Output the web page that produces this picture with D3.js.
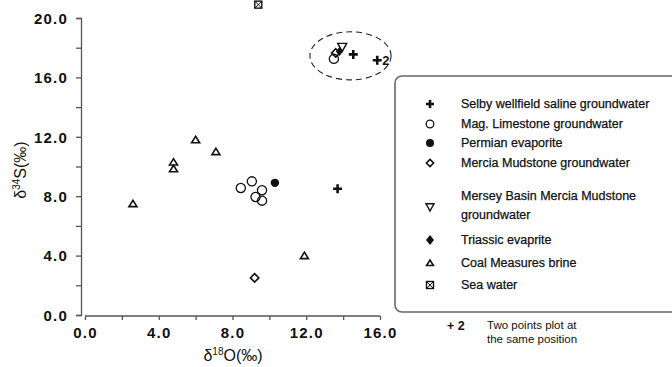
<!DOCTYPE html>
<html>
<head>
<meta charset="utf-8">
<script src="https://cdn.jsdelivr.net/npm/d3@7"></script>
<style>
  body { margin: 0; background: #fff; }
  svg { font-family: "Liberation Sans", Arial, sans-serif; }
</style>
</head>
<body>
<div class="vis"></div>
<script>
// chart size
const FRAME_WIDTH = 672;
const FRAME_HEIGHT = 367;

// data: [d18O, d34S]
const selby = [[13.7, 8.5], [14.55, 17.55], [15.85, 17.15]];
const magLimestone = [[8.45, 8.55], [9.05, 9.0], [9.6, 8.4], [9.25, 7.95], [9.6, 7.7], [13.5, 17.25]];
const permian = [[10.3, 8.9]];
const merciaMudstone = [[9.2, 2.5], [13.6, 17.65]];
const merseyBasin = [[13.95, 18.05]];
const triassic = [[13.8, 17.75]];
const coalMeasures = [[2.6, 7.5], [4.8, 10.3], [4.8, 9.85], [6.0, 11.8], [7.1, 11.0], [11.9, 4.0]];
const seaWater = [[9.4, 20.9]];

const xTicks = [0, 4, 8, 12, 16];
const xMinor = [2, 6, 10, 14];
const yTicks = [0, 4, 8, 12, 16, 20];
const yMinor = [2, 6, 10, 14, 18];

const legendLabels = [
  ["Selby wellfield saline groundwater"],
  ["Mag. Limestone groundwater"],
  ["Permian evaporite"],
  ["Mercia Mudstone groundwater"],
  ["Mersey Basin Mercia Mudstone", "groundwater"],
  ["Triassic evaprite"],
  ["Coal Measures brine"],
  ["Sea water"]
];

// dashed ring round the cluster, in data units
const ring = {cx: 14.4, cy: 17.45, rx: 2.2, ry: 1.62};

const X_SCALE = d3.scaleLinear().domain([0, 16]).range([85, 380]);
const Y_SCALE = d3.scaleLinear().domain([0, 20]).range([315, 18]);

const FRAME = d3.select('.vis')
  .append('svg')
    .attr('width', FRAME_WIDTH)
    .attr('height', FRAME_HEIGHT);

const INK = '#111';

// symbol drawing helpers
function drawSymbol(g, type, s) {
  if (type === 'cross') {
    g.append('path').attr('d', `M${-s},0H${s}M0,${-s}V${s}`)
      .attr('stroke', INK).attr('stroke-width', 2.6);
  } else if (type === 'circle') {
    g.append('circle').attr('r', s).attr('fill', 'none')
      .attr('stroke', INK).attr('stroke-width', 1.3);
  } else if (type === 'dot') {
    g.append('circle').attr('r', s).attr('fill', INK);
  } else if (type === 'diamond') {
    g.append('path').attr('d', `M0,${-s}L${s},0L0,${s}L${-s},0Z`)
      .attr('fill', 'none').attr('stroke', INK).attr('stroke-width', 1.6);
  } else if (type === 'fdiamond') {
    g.append('path').attr('d', `M0,${-s}L${s * 0.8},0L0,${s}L${-s * 0.8},0Z`)
      .attr('fill', INK);
  } else if (type === 'tridown') {
    g.append('path').attr('d', `M${-s},${-s * 0.8}H${s}L0,${s}Z`)
      .attr('fill', 'none').attr('stroke', INK).attr('stroke-width', 1.4);
  } else if (type === 'triup') {
    g.append('path').attr('d', `M${-s},${s * 0.75}H${s}L0,${-s * 0.85}Z`)
      .attr('fill', 'none').attr('stroke', INK).attr('stroke-width', 1.6);
  } else if (type === 'square') {
    g.append('rect').attr('x', -s).attr('y', -s).attr('width', 2 * s).attr('height', 2 * s)
      .attr('fill', 'none').attr('stroke', INK).attr('stroke-width', 1.4);
    g.append('path').attr('d', `M${-s},${-s}L${s},${s}M${s},${-s}L${-s},${s}`)
      .attr('stroke', INK).attr('stroke-width', 1);
  }
}

const series = [
  {data: selby, type: 'cross', size: 4.5, leg: 4},
  {data: magLimestone, type: 'circle', size: 4.6, leg: 3.8},
  {data: permian, type: 'dot', size: 4.2, leg: 4},
  {data: merciaMudstone, type: 'diamond', size: 4.2, leg: 3.6},
  {data: merseyBasin, type: 'tridown', size: 4.5, leg: 4},
  {data: triassic, type: 'fdiamond', size: 4.5, leg: 5},
  {data: coalMeasures, type: 'triup', size: 4, leg: 3.4},
  {data: seaWater, type: 'square', size: 3.5, leg: 3.5}
];

// axes
const yAxis = FRAME.append('g')
  .attr('transform', 'translate(81,0)')
  .call(d3.axisLeft(Y_SCALE).tickValues(yTicks).tickFormat(d3.format('.1f')).tickSize(5).tickPadding(7));
FRAME.append('g')
  .attr('transform', 'translate(81,0)')
  .call(d3.axisLeft(Y_SCALE).tickValues(yMinor).tickFormat('').tickSize(5))
  .call((g) => g.select('.domain').remove())
  .selectAll('line').attr('stroke', '#555').attr('stroke-width', 1.3);

const xAxis = FRAME.append('g')
  .attr('transform', 'translate(0,316)')
  .call(d3.axisBottom(X_SCALE).tickValues(xTicks.concat(xMinor)).tickFormat((d) => xTicks.includes(d) ? d3.format('.1f')(d) : '').tickSize(4).tickPadding(7).tickSizeOuter(0));

[yAxis, xAxis].forEach((ax) => {
  ax.selectAll('path, line').attr('stroke', '#555').attr('stroke-width', 1.3);
  ax.selectAll('text').attr('font-size', '15px').attr('font-weight', 'bold')
    .attr('fill', INK).attr('letter-spacing', '1.2px');
});
yAxis.selectAll('text').attr('dy', '0.35em').attr('dx', '-1px');
xAxis.select('.domain').attr('d', `M${X_SCALE(0)},0H${X_SCALE(16)}`);

// axis titles
FRAME.append('text')
  .attr('transform', 'translate(26,170) rotate(-90)')
  .attr('text-anchor', 'middle')
  .attr('font-size', '16px').attr('fill', INK)
  .html('δ<tspan font-size="10" dy="-6">34</tspan><tspan dy="6">S(‰)</tspan>');

FRAME.append('text')
  .attr('x', 233).attr('y', 361)
  .attr('text-anchor', 'middle')
  .attr('font-size', '16px').attr('fill', INK)
  .html('δ<tspan font-size="10" dy="-6">18</tspan><tspan dy="6">O(‰)</tspan>');

// dashed ring
FRAME.append('ellipse')
  .attr('cx', X_SCALE(ring.cx)).attr('cy', Y_SCALE(ring.cy))
  .attr('rx', X_SCALE(ring.rx) - X_SCALE(0)).attr('ry', Y_SCALE(0) - Y_SCALE(ring.ry))
  .attr('fill', 'none').attr('stroke', '#222').attr('stroke-width', 1.1)
  .attr('stroke-dasharray', '6,4');

// points
series.forEach((s) => {
  FRAME.append('g').selectAll('g')
    .data(s.data)
    .enter().append('g')
      .attr('transform', (d) => `translate(${X_SCALE(d[0])},${Y_SCALE(d[1])})`)
      .each(function () { drawSymbol(d3.select(this), s.type, s.size); });
});

// "2" beside the doubled point
FRAME.append('text')
  .attr('x', X_SCALE(selby[2][0]) + 5).attr('y', Y_SCALE(selby[2][1]) + 5)
  .attr('font-size', '13px').attr('font-weight', 'bold').attr('fill', INK)
  .text('2');

// legend
const legend = FRAME.append('g');
legend.append('rect')
  .attr('x', 395).attr('y', 76).attr('width', 300).attr('height', 236)
  .attr('rx', 7)
  .attr('fill', '#fff').attr('stroke', '#666').attr('stroke-width', 1.6);

const legendY = [104, 124, 143, 163, 207, 240, 263, 285];
legendLabels.forEach((lab, i) => {
  const g = legend.append('g').attr('transform', `translate(430,${legendY[i]})`);
  drawSymbol(g, series[i].type, series[i].leg);
  lab.forEach((line, j) => {
    const y = lab.length > 1 ? legendY[i] - 11 + j * 19 : legendY[i];
    legend.append('text')
      .attr('x', 461).attr('y', y).attr('dy', '0.35em')
      .attr('font-size', '12.5px').attr('fill', INK)
      .attr('stroke', INK).attr('stroke-width', 0.25)
      .text(line);
  });
});

// footnote
FRAME.append('text')
  .attr('x', 447).attr('y', 330)
  .attr('font-size', '12.5px').attr('font-weight', 'bold').attr('fill', INK)
  .text('+ 2');
FRAME.append('text')
  .attr('x', 487).attr('y', 329)
  .attr('font-size', '11.5px').attr('fill', INK)
  .text('Two points plot at');
FRAME.append('text')
  .attr('x', 487).attr('y', 343)
  .attr('font-size', '11.5px').attr('fill', INK)
  .text('the same position');
</script>
</body>
</html>
